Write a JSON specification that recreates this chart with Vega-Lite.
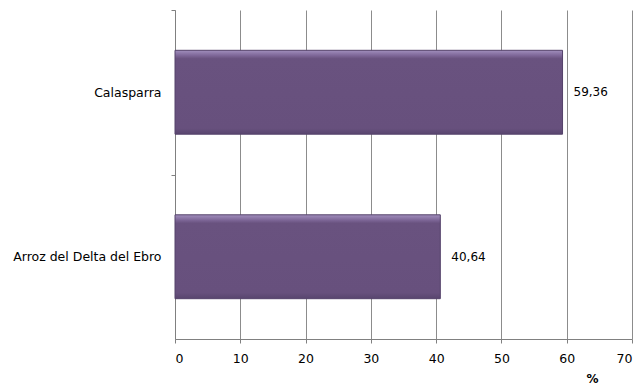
{
  "$schema": "https://vega.github.io/schema/vega-lite/v6.json",
  "width": 457,
  "height": 329,
  "autosize": {"type": "none"},
  "padding": {"left": 175, "top": 10, "right": 11, "bottom": 46},
  "background": "white",
  "config": {
    "view": {"stroke": null},
    "font": "DejaVu Sans",
    "locale": {"number": {"decimal": ",", "thousands": ".", "grouping": [3], "currency": ["", " €"]}}
  },
  "data": {
    "values": [
      {"origen": "Calasparra", "pct": 59.36},
      {"origen": "Arroz del Delta del Ebro", "pct": 40.64}
    ]
  },
  "encoding": {
    "y": {
      "field": "origen",
      "type": "nominal",
      "sort": ["Calasparra", "Arroz del Delta del Ebro"],
      "scale": {"paddingInner": 0.49, "paddingOuter": 0.245},
      "axis": {
        "title": null,
        "tickOffset": -82,
        "labelOffset": 82,
        "tickSize": 4,
        "tickColor": "#808080",
        "domainColor": "#808080",
        "labelPadding": 10,
        "labelFontSize": 12.5,
        "labelColor": "#000000",
        "labelFont": "DejaVu Sans"
      }
    }
  },
  "layer": [
    {
      "mark": {
        "type": "bar",
        "fill": {
          "gradient": "linear",
          "x1": 0, "y1": 0, "x2": 0, "y2": 1,
          "stops": [
            {"offset": 0, "color": "#a18fbd"},
            {"offset": 0.06, "color": "#7f6899"},
            {"offset": 0.1, "color": "#69527F"},
            {"offset": 0.93, "color": "#67507D"},
            {"offset": 1, "color": "#58456e"}
          ]
        },
        "stroke": "#54426a",
        "strokeWidth": 1
      },
      "encoding": {
        "x": {
          "field": "pct",
          "type": "quantitative",
          "scale": {"domain": [0, 70]},
          "axis": {
            "title": "%",
            "values": [0, 10, 20, 30, 40, 50, 60, 70],
            "format": "d",
            "grid": true,
            "gridColor": "#8c8c8c",
            "tickColor": "#808080",
            "domainColor": "#808080",
            "tickSize": 4,
            "labelFontSize": 12.5,
            "labelColor": "#000000",
            "labelPadding": 9,
            "titleFontSize": 12,
            "titleFontWeight": "bold",
            "titleColor": "#000000",
            "titleX": 417,
            "titleY": 43,
            "titleBaseline": "alphabetic",
            "titleAlign": "center"
          }
        }
      }
    },
    {
      "mark": {"type": "text", "align": "left", "baseline": "middle", "dx": 11, "fontSize": 12, "color": "#000000"},
      "encoding": {
        "x": {"field": "pct", "type": "quantitative"},
        "text": {"field": "pct", "type": "quantitative", "format": ".2f"}
      }
    }
  ]
}
